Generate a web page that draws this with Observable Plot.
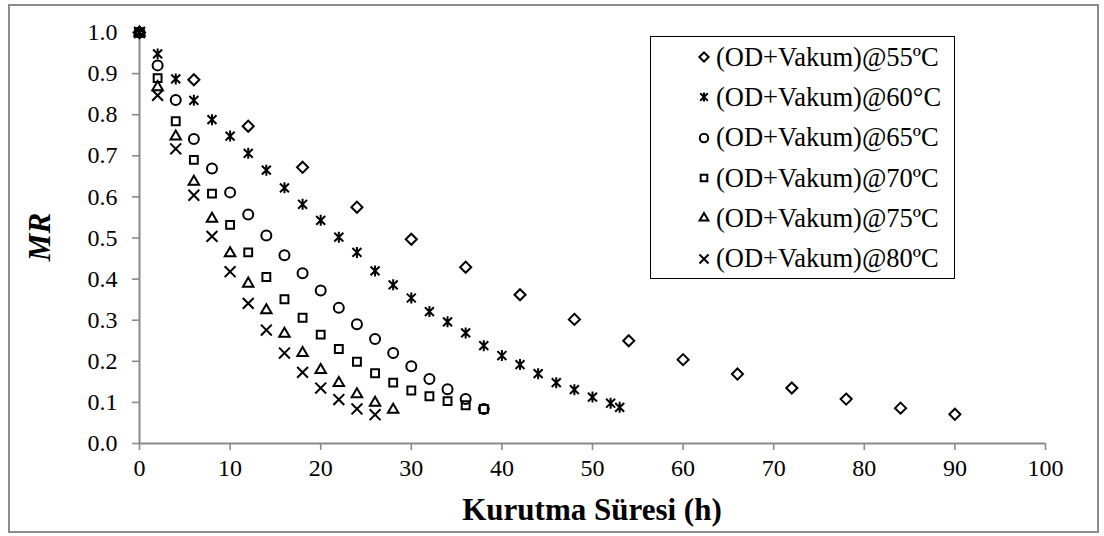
<!DOCTYPE html>
<html>
<head>
<meta charset="utf-8">
<script src="https://cdn.jsdelivr.net/npm/d3@7"></script>
<script src="https://cdn.jsdelivr.net/npm/@observablehq/plot@0.6"></script>
<style>
  html, body { margin: 0; padding: 0; background: #fff; }
  #wrap { position: relative; width: 1104px; height: 536px; font-family: "Liberation Serif", "Times New Roman", serif; }
  #frame { position: absolute; left: 8px; top: 4px; width: 1087px; height: 525px; border: 2px solid #8c8c8c; pointer-events: none; }
  #xtitle { position: absolute; left: 139px; width: 906px; top: 492px; text-align: center; font-weight: bold; font-size: 31px; line-height: 36px; }
  #ytitle { position: absolute; left: 40px; top: 237px; transform: translate(-50%, -50%) rotate(-90deg); font-weight: bold; font-style: italic; font-size: 31px; line-height: 30px; white-space: nowrap; }
  #legend { position: absolute; left: 650px; top: 36px; width: 305px; height: 243px; border: 1.6px solid #000; background: #fff; box-sizing: border-box; padding-top: 0px; }
  .row { display: flex; align-items: center; height: 40.3px; padding-left: 47px; font-size: 26.5px; white-space: nowrap; }
  .row svg { margin-right: 6px; overflow: visible; }
</style>
</head>
<body>
<div id="wrap">
  <div id="chart"></div>
  <div id="frame"></div>
  <div id="xtitle">Kurutma Süresi (h)</div>
  <div id="ytitle">MR</div>
  <div id="legend"></div>
</div>
<script>
const seriesNames = ["(OD+Vakum)@55ºC", "(OD+Vakum)@60°C", "(OD+Vakum)@65ºC", "(OD+Vakum)@70ºC", "(OD+Vakum)@75ºC", "(OD+Vakum)@80ºC"];

const t55 = [0, 6, 12, 18, 24, 30, 36, 42, 48, 54, 60, 66, 72, 78, 84, 90];
const mr55 = [1.0, 0.885, 0.772, 0.672, 0.575, 0.497, 0.429, 0.362, 0.302, 0.250, 0.204, 0.169, 0.135, 0.108, 0.086, 0.071];

const t60 = [0, 2, 4, 6, 8, 10, 12, 14, 16, 18, 20, 22, 24, 26, 28, 30, 32, 34, 36, 38, 40, 42, 44, 46, 48, 50, 52, 53];
const mr60 = [1.0, 0.948, 0.887, 0.835, 0.788, 0.748, 0.706, 0.665, 0.622, 0.582, 0.543, 0.502, 0.465, 0.420, 0.386, 0.354, 0.321, 0.296, 0.269, 0.238, 0.214, 0.192, 0.170, 0.148, 0.131, 0.113, 0.098, 0.088];

const t65 = [0, 2, 4, 6, 8, 10, 12, 14, 16, 18, 20, 22, 24, 26, 28, 30, 32, 34, 36, 38];
const mr65 = [1.0, 0.920, 0.836, 0.741, 0.669, 0.611, 0.557, 0.506, 0.458, 0.414, 0.372, 0.330, 0.290, 0.254, 0.220, 0.188, 0.157, 0.132, 0.108, 0.084];

const t70 = [0, 2, 4, 6, 8, 10, 12, 14, 16, 18, 20, 22, 24, 26, 28, 30, 32, 34, 36, 38];
const mr70 = [1.0, 0.889, 0.784, 0.690, 0.608, 0.532, 0.465, 0.405, 0.351, 0.306, 0.265, 0.230, 0.199, 0.171, 0.148, 0.129, 0.115, 0.103, 0.093, 0.084];

const t75 = [0, 2, 4, 6, 8, 10, 12, 14, 16, 18, 20, 22, 24, 26, 28];
const mr75 = [1.0, 0.867, 0.747, 0.637, 0.547, 0.463, 0.389, 0.324, 0.267, 0.220, 0.179, 0.147, 0.120, 0.099, 0.082];

const t80 = [0, 2, 4, 6, 8, 10, 12, 14, 16, 18, 20, 22, 24, 26];
const mr80 = [1.0, 0.847, 0.717, 0.604, 0.504, 0.418, 0.341, 0.276, 0.220, 0.173, 0.135, 0.107, 0.084, 0.070];

const xTicks = [0, 10, 20, 30, 40, 50, 60, 70, 80, 90, 100];
const yTicks = [0, 0.1, 0.2, 0.3, 0.4, 0.5, 0.6, 0.7, 0.8, 0.9, 1.0];

// X-shaped asterisk (X plus vertical bar), as in the reference
const asteriskX = {
  draw(context, size) {
    const r = Math.sqrt(size) * 0.62;
    context.moveTo(0, -r); context.lineTo(0, r);
    context.moveTo(-0.82 * r, -0.8 * r); context.lineTo(0.82 * r, 0.8 * r);
    context.moveTo(-0.82 * r, 0.8 * r); context.lineTo(0.82 * r, -0.8 * r);
  }
};
const symbols = [d3.symbolDiamond2, asteriskX, d3.symbolCircle, d3.symbolSquare2, d3.symbolTriangle2, d3.symbolTimes];

const times = [t55, t60, t65, t70, t75, t80];
const values = [mr55, mr60, mr65, mr70, mr75, mr80];
const data = [];
seriesNames.forEach((name, i) => {
  times[i].forEach((t, j) => data.push({series: name, t, mr: values[i][j]}));
});

const axisGray = "#8a8a8a";
const chart = Plot.plot({
  width: 1104,
  height: 536,
  marginLeft: 139,
  marginRight: 59,
  marginTop: 32,
  marginBottom: 93,
  style: {fontFamily: "'Liberation Serif', 'Times New Roman', serif", fontSize: "24px", color: "black", overflow: "visible", background: "transparent"},
  x: {domain: [0, 100]},
  y: {domain: [0, 1]},
  symbol: {domain: seriesNames, range: symbols},
  marks: [
    Plot.axisX({ticks: xTicks, tickSize: 7, tickPadding: 8, stroke: axisGray, fill: "black", label: null, tickFormat: d => String(d)}),
    Plot.axisY({ticks: yTicks, tickSize: 7, tickPadding: 15, stroke: axisGray, fill: "black", label: null, tickFormat: d3.format(".1f")}),
    Plot.ruleY([0], {stroke: axisGray, strokeWidth: 2}),
    Plot.ruleX([0], {stroke: axisGray, strokeWidth: 2}),
    Plot.dot(data, {x: "t", y: "mr", symbol: "series", stroke: "black", fill: "none", r: 5, strokeWidth: 2})
  ]
});
chart.querySelectorAll("[aria-label='x-axis tick'] path, [aria-label='y-axis tick'] path").forEach(p => p.setAttribute("stroke-width", "1.6"));
document.getElementById("chart").appendChild(chart);

// legend
const legend = d3.select("#legend");
seriesNames.forEach((name, i) => {
  const row = legend.append("div").attr("class", "row");
  const svg = row.append("svg").attr("width", 12).attr("height", 12).attr("viewBox", "-6 -6 12 12");
  svg.append("path")
    .attr("d", d3.symbol(symbols[i], 4.2 * 4.2 * Math.PI)())
    .attr("fill", "none").attr("stroke", "black").attr("stroke-width", 2);
  row.append("span").text(name);
});
</script>
</body>
</html>
